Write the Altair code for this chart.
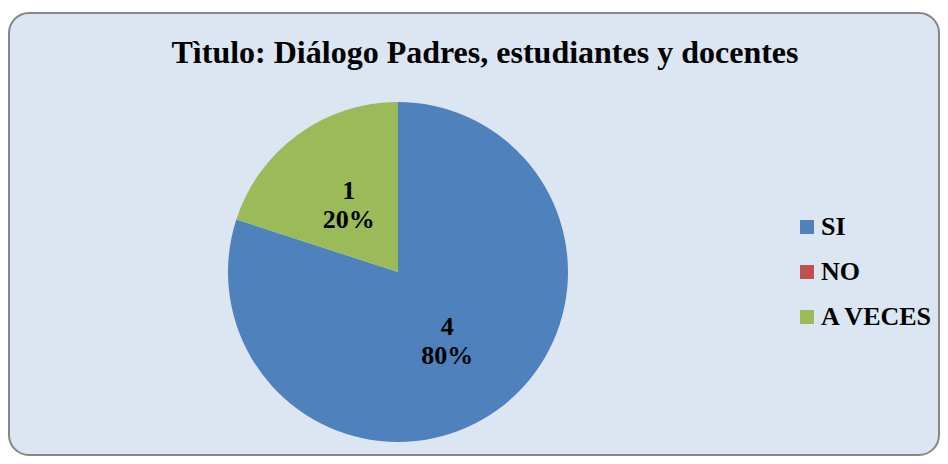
import altair as alt
import pandas as pd

TITLE = "Tìtulo: Diálogo Padres, estudiantes y docentes"
CATEGORIES = ["SI", "NO", "A VECES"]
COUNTS = [4, 0, 1]
PERCENTS = ["80%", "0%", "20%"]
COLORS = ["#4f81bd", "#c0504d", "#9bbb59"]

df = pd.DataFrame({
    "cat": CATEGORIES,
    "count": COUNTS,
    "pct": PERCENTS,
    "ord": list(range(len(CATEGORIES))),
})
df["label"] = [f"{c}\n{p}" for c, p in zip(COUNTS, PERCENTS)]

FONT = "Liberation Serif"
CX, CY, R = 390, 264, 170

base = alt.Chart(df)

frame = base.mark_rect(
    fill="#dce6f2", stroke="#868686", strokeWidth=2, cornerRadius=20
).encode(
    x=alt.value(1), x2=alt.value(931), y=alt.value(5), y2=alt.value(447)
).transform_filter("datum.ord == 0")

pie = base.mark_arc(outerRadius=R).encode(
    theta=alt.Theta("count:Q", stack=True),
    order=alt.Order("ord:Q", sort="ascending"),
    color=alt.Color(
        "cat:N",
        scale=alt.Scale(domain=CATEGORIES, range=COLORS),
        legend=alt.Legend(
            title=None,
            orient="none",
            legendX=786,
            legendY=206,
            padding=0,
            symbolType="square",
            symbolSize=196,
            symbolStrokeWidth=0,
            labelFont=FONT,
            labelFontSize=26,
            labelFontWeight="bold",
            labelColor="#000000",
            labelOffset=1,
            rowPadding=19,
            labelLimit=300,
        ),
    ),
    x=alt.value(CX),
    y=alt.value(CY),
)

labels = base.transform_filter("datum.count > 0").mark_text(
    radius=84, font=FONT, fontSize=26, fontWeight="bold", color="#000000",
    lineBreak="\n", baseline="middle", align="center", lineHeight=29, dy=-13,
).encode(
    theta=alt.Theta("count:Q", stack=True),
    order=alt.Order("ord:Q", sort="ascending"),
    text="label:N",
    x=alt.value(CX),
    y=alt.value(CY),
)

title = base.transform_filter("datum.ord == 0").mark_text(
    font=FONT, fontSize=32, fontWeight="bold", color="#000000",
    align="center", baseline="alphabetic",
).encode(
    text=alt.value(TITLE), x=alt.value(477), y=alt.value(55)
)

chart = alt.layer(frame, pie, labels, title).properties(
    width=932, height=448, autosize="none", padding=0, background="#ffffff"
).configure_view(strokeWidth=0)

chart.save("out.html", embed_options={"renderer": "svg", "actions": False})
